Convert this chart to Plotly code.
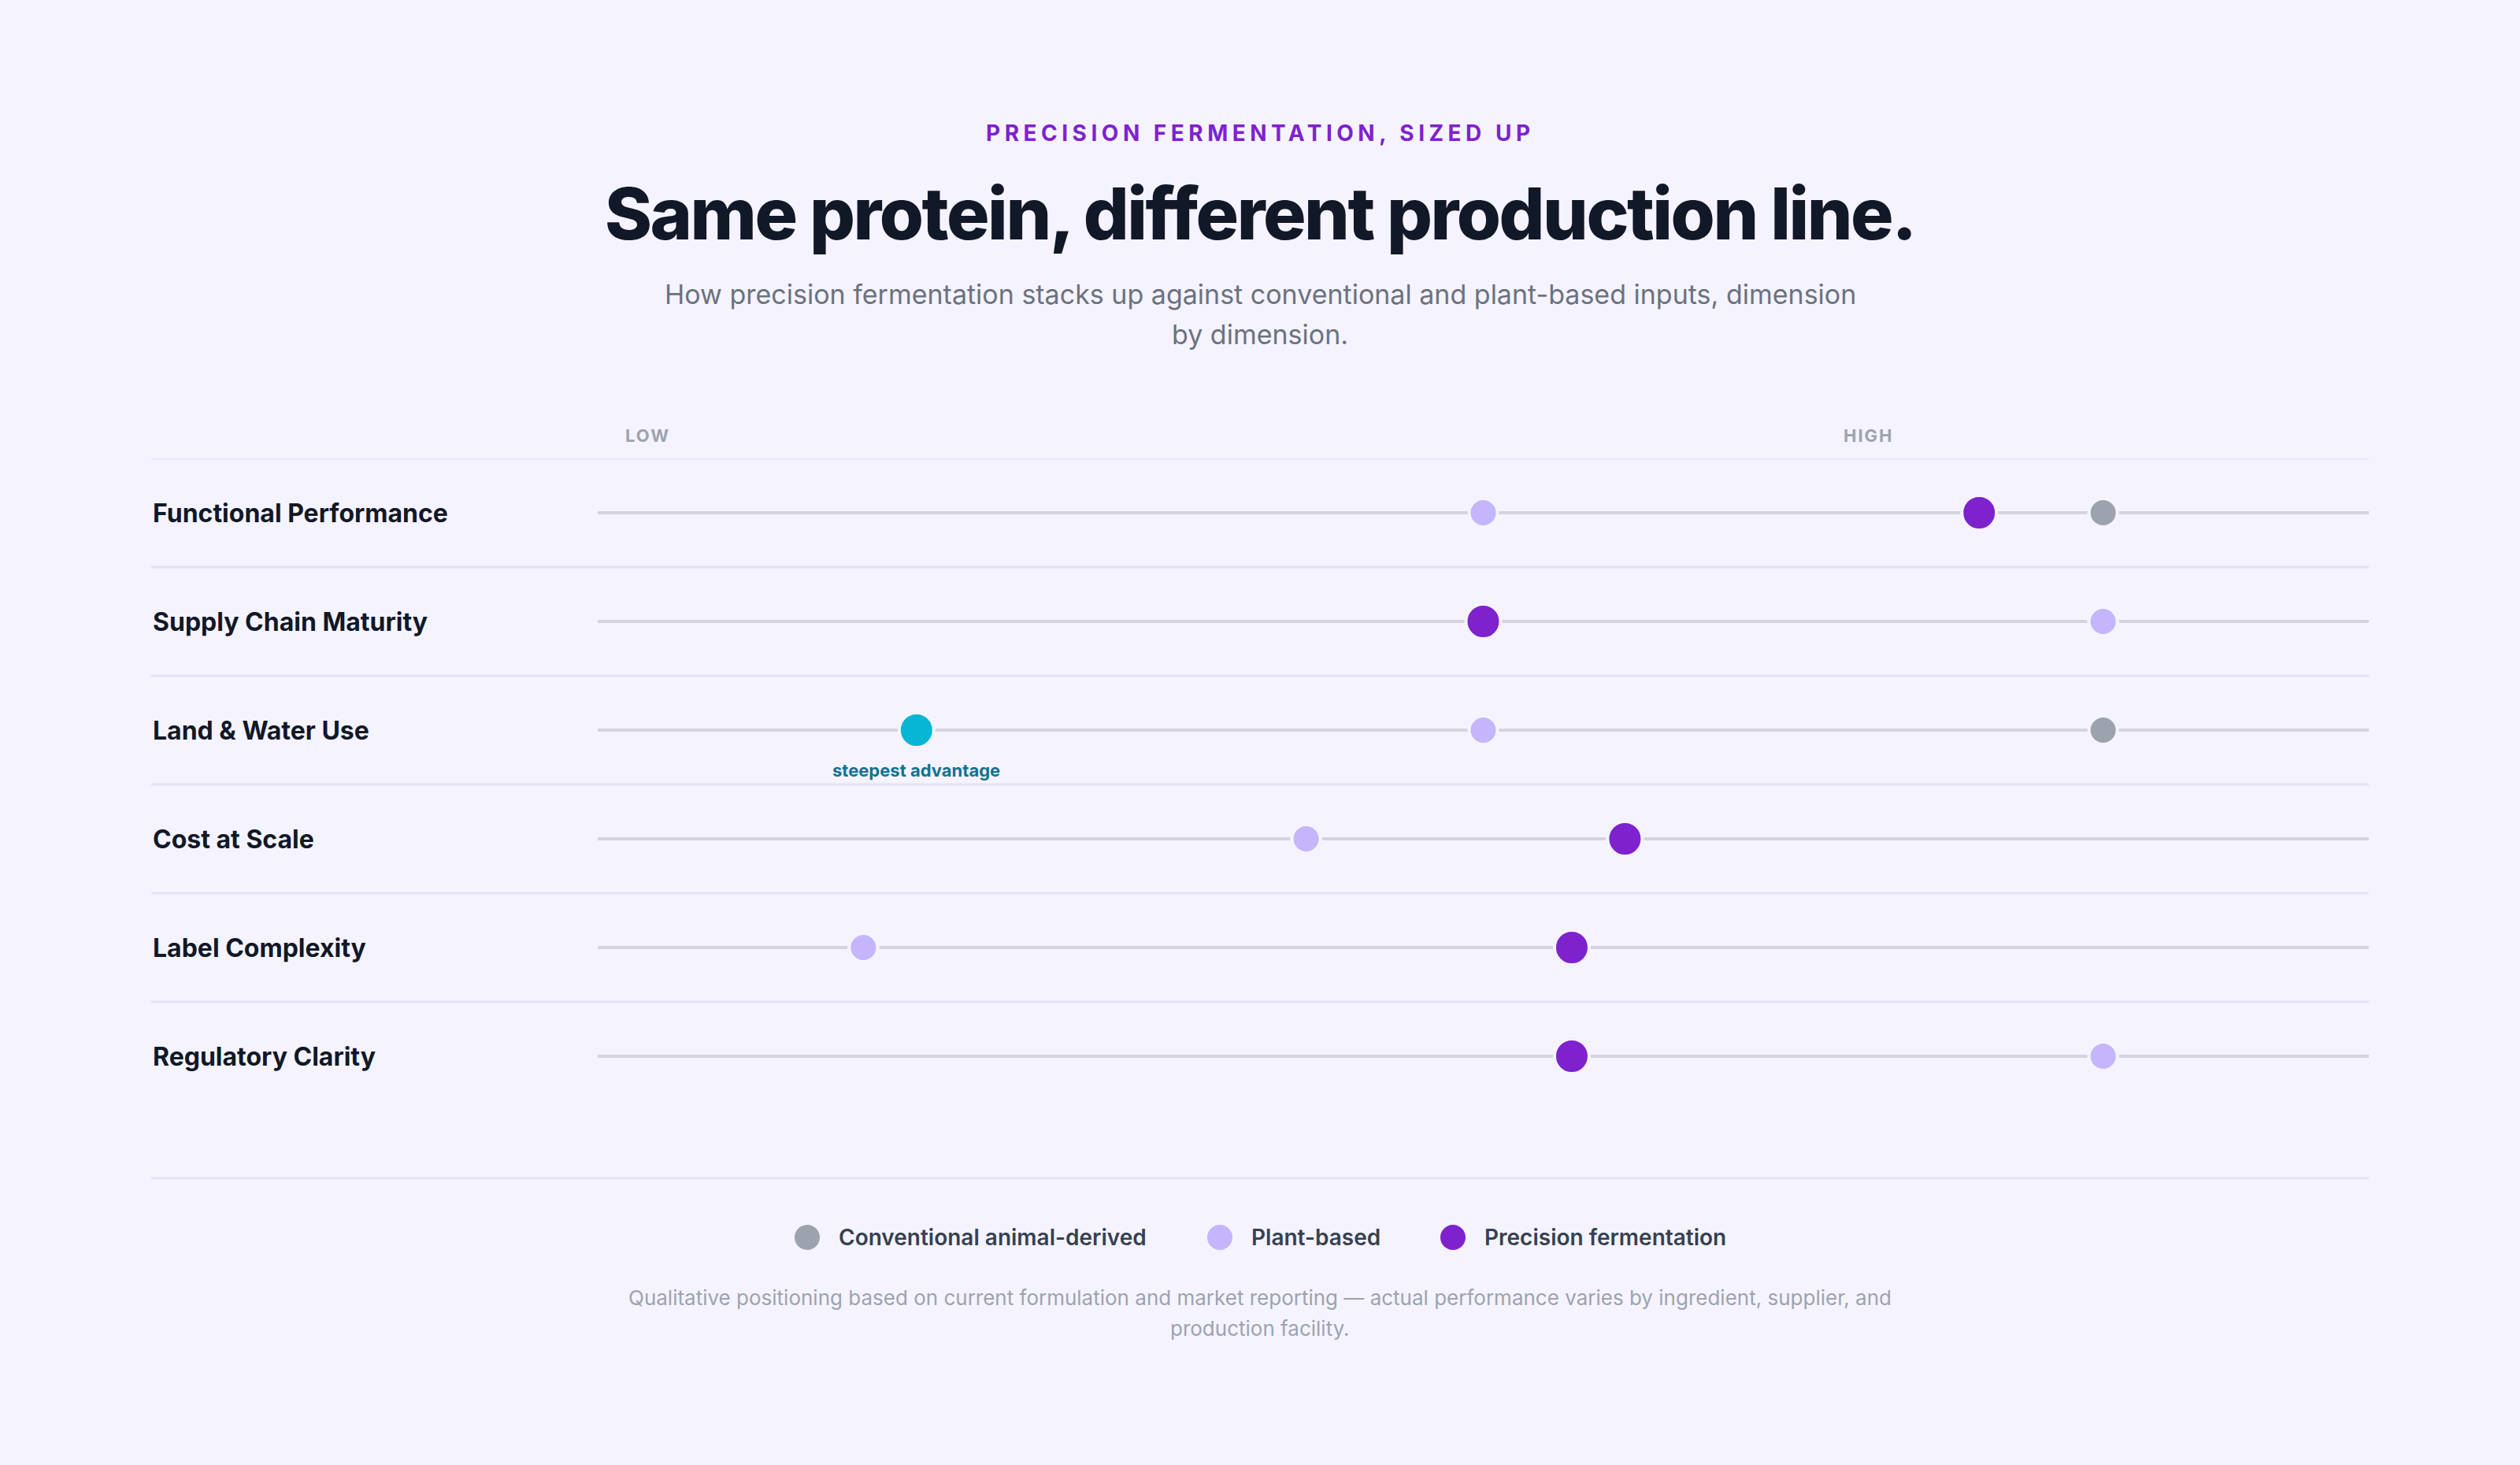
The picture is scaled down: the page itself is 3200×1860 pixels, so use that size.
import plotly.graph_objects as go

# ---- data -------------------------------------------------------------
dimensions = ["Functional Performance", "Supply Chain Maturity", "Land & Water Use",
              "Cost at Scale", "Label Complexity", "Regulatory Clarity"]
conventional = [8.5, 8.5, 8.5, 4.0, 1.5, 8.5]
plant_based = [5.0, 8.5, 5.0, 4.0, 1.5, 8.5]
precision = [7.8, 5.0, 1.8, 5.8, 5.5, 5.5]
series_names = ["Conventional animal-derived", "Plant-based", "Precision fermentation"]
highlight_row = "Land & Water Use"
highlight_note = "steepest advantage"
scale_labels = ["LOW", "HIGH"]

eyebrow = "PRECISION FERMENTATION, SIZED UP"
title = "Same protein, different production line."
subtitle = ["How precision fermentation stacks up against conventional and plant-based inputs, dimension",
            "by dimension."]
footnote = ["Qualitative positioning based on current formulation and market reporting \u2014 actual performance varies by ingredient, supplier, and",
            "production facility."]

# ---- style ------------------------------------------------------------
W, H = 3200, 1860
BG = "#f5f3ff"
FONT = "Inter, 'Noto Sans', sans-serif"
C_CONV = "#9ca3af"
C_PLANT = "#c4b5fd"
C_PF = "#7e22ce"
C_HI = "#06b6d4"
TRACK = "#d4d4de"
RULE = "#e6e0fa"


def py(px):
    return 1 - px / H


def pxx(px):
    return px / W


rows = list(range(len(dimensions)))
pf_colors = [C_HI if d == highlight_row else C_PF for d in dimensions]

fig = go.Figure()

# tracks
tx, ty = [], []
for i in rows:
    tx += [0, 10, None]
    ty += [i, i, None]
fig.add_trace(go.Scatter(x=tx, y=ty, mode="lines", line=dict(color=TRACK, width=4),
                         hoverinfo="skip", showlegend=False))

fig.add_trace(go.Scatter(x=conventional, y=rows, mode="markers", name=series_names[0],
                         marker=dict(size=36, color=C_CONV, line=dict(color=BG, width=4)),
                         showlegend=False))
fig.add_trace(go.Scatter(x=plant_based, y=rows, mode="markers", name=series_names[1],
                         marker=dict(size=36, color=C_PLANT, line=dict(color=BG, width=4)),
                         showlegend=False))
fig.add_trace(go.Scatter(x=precision, y=rows, mode="markers", name=series_names[2],
                         marker=dict(size=44, color=pf_colors, line=dict(color=BG, width=4)),
                         showlegend=False))

shapes = []
# header rule and row separators
for yv in [-0.5] + [i + 0.5 for i in rows[:-1]]:
    shapes.append(dict(type="line", xref="paper", yref="y", x0=pxx(192), x1=pxx(3008),
                       y0=yv, y1=yv, line=dict(color=RULE, width=3), layer="below"))
shapes.append(dict(type="line", xref="paper", yref="paper", x0=pxx(192), x1=pxx(3008),
                   y0=py(1496), y1=py(1496), line=dict(color=RULE, width=3), layer="below"))

ann = []
ann.append(dict(text='<span style="letter-spacing:5.5px">%s</span>' % eyebrow, x=0.5, y=py(169),
                font=dict(size=28, color=C_PF, family=FONT, weight=700)))
ann.append(dict(text='<span style="letter-spacing:-2.5px">%s</span>' % title, x=0.5, y=py(271),
                font=dict(size=91, color="#111827", family=FONT, weight=800)))
for k, line in enumerate(subtitle):
    ann.append(dict(text=line, x=0.5, y=py(373 + 51 * k),
                    font=dict(size=34, color="#6b7280", family=FONT)))
for lab, xp in zip(scale_labels, [792, 2339]):
    ann.append(dict(text='<span style="letter-spacing:2px">%s</span>' % lab, x=pxx(xp), y=py(553),
                    xanchor="left", font=dict(size=22, color=C_CONV, family=FONT, weight=700)))
for i, d in enumerate(dimensions):
    ann.append(dict(text=d, x=pxx(192), xref="paper", y=i, yref="y", xanchor="left",
                    font=dict(size=32, color="#111827", family=FONT, weight=700)))
hi = dimensions.index(highlight_row)
ann.append(dict(text=highlight_note, x=precision[hi], xref="x", y=hi, yref="y", yshift=-51,
                font=dict(size=22, color="#0e7490", family=FONT, weight=700)))

# legend
leg_colors = [C_CONV, C_PLANT, C_PF]
leg_x = [1025, 1549, 1845]
for name, col, cx in zip(series_names, leg_colors, leg_x):
    shapes.append(dict(type="circle", xref="paper", yref="paper", xsizemode="pixel", ysizemode="pixel",
                       xanchor=pxx(cx), yanchor=py(1571), x0=-16, x1=16, y0=-16, y1=16,
                       fillcolor=col, line=dict(width=0)))
    ann.append(dict(text=name, x=pxx(cx + 38), y=py(1571), xanchor="left",
                    font=dict(size=28, color="#374151", family=FONT, weight=600)))

for k, line in enumerate(footnote):
    ann.append(dict(text=line, x=0.5, y=py(1647 + 39 * k),
                    font=dict(size=26, color=C_CONV, family=FONT)))

for a in ann:
    a.setdefault("xref", "paper")
    a.setdefault("yref", "paper")
    a.setdefault("xanchor", "center")
    a["yanchor"] = "middle"
    a["showarrow"] = False

fig.update_layout(
    width=W, height=H,
    margin=dict(l=0, r=0, t=0, b=0),
    paper_bgcolor=BG, plot_bgcolor=BG,
    font=dict(family=FONT),
    xaxis=dict(range=[0, 10], domain=[pxx(759), pxx(3008)], visible=False, fixedrange=True),
    yaxis=dict(range=[len(dimensions) - 0.5, -0.5], domain=[py(1410), py(582)], visible=False,
               fixedrange=True),
    shapes=shapes,
    annotations=ann,
    showlegend=False,
)

fig.write_html("out.html", config={"displayModeBar": False},
               post_script="document.body.style.margin='0';document.body.style.background='%s';" % BG)
